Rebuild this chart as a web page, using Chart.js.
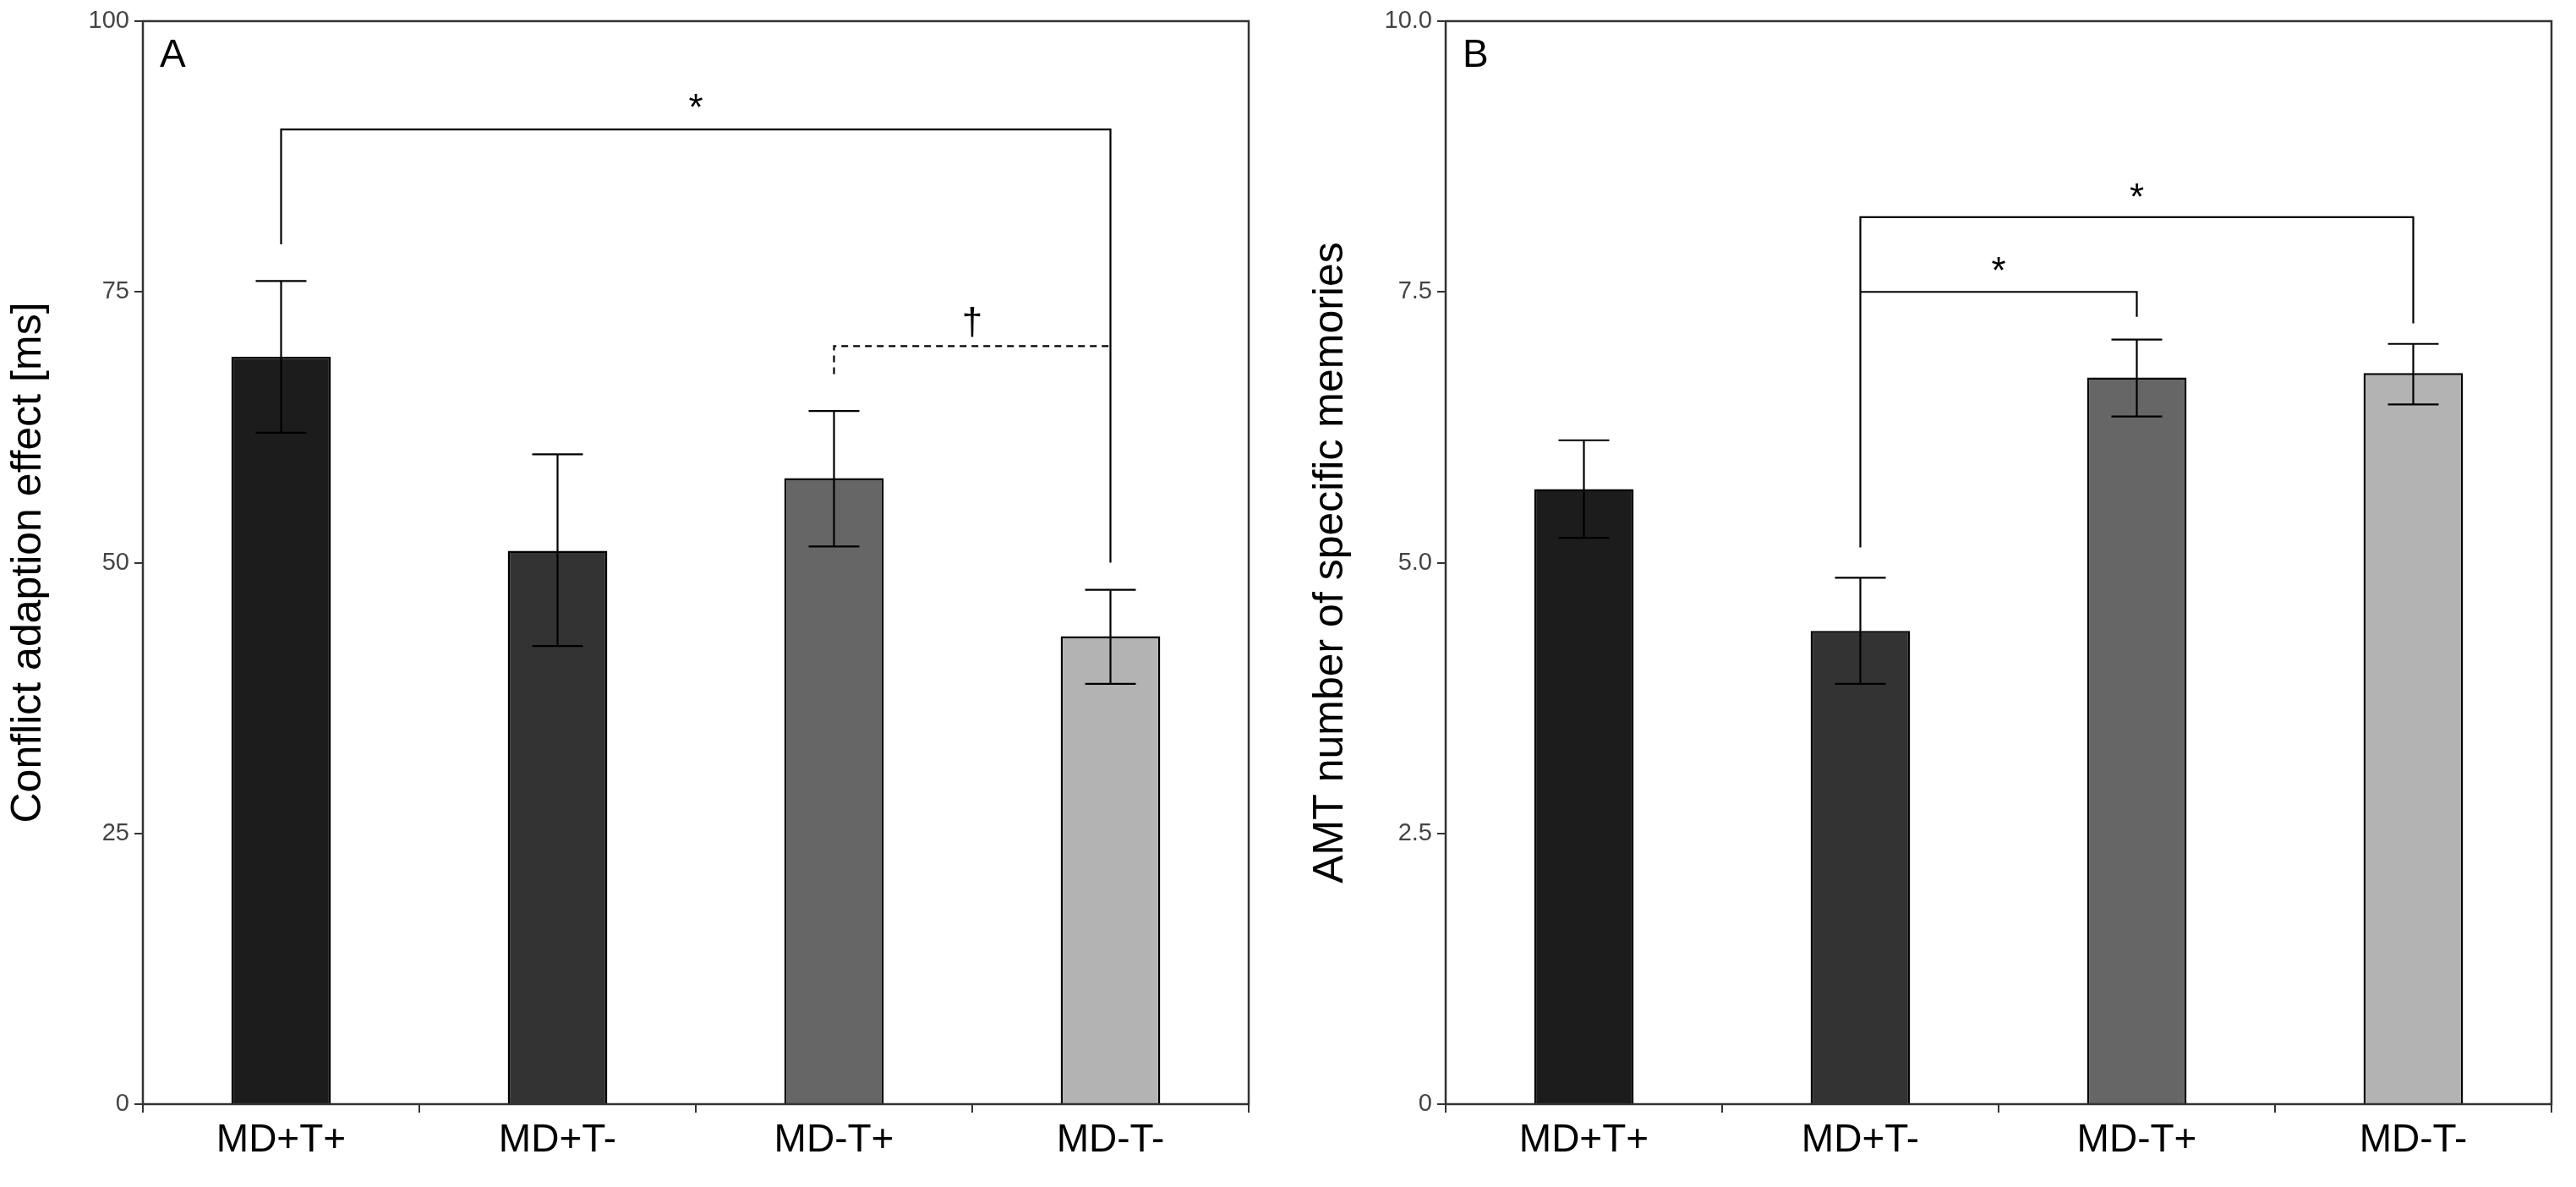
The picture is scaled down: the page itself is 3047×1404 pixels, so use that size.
<!DOCTYPE html>
<html><head><meta charset="utf-8">
<script src="https://cdn.jsdelivr.net/npm/chart.js@4"></script>
<style>body{margin:0;background:#fff;width:3047px;height:1404px;position:relative;overflow:hidden}
.p{position:absolute;top:0;height:1404px;width:1490px}</style></head>
<body>
<div class="p" style="left:0"><canvas id="a"></canvas></div>
<div class="p" style="left:1540px"><canvas id="b"></canvas></div>
<script>
const categories=["MD+T+","MD+T-","MD-T+","MD-T-"];
const colors=["#1c1c1c","#333333","#666666","#b3b3b3"];
const valuesA=[69.0,51.1,57.8,43.2];
const lowA=[62.0,42.3,51.5,38.8];
const highA=[76.0,60.0,64.0,47.5];
const valuesB=[5.68,4.37,6.71,6.75];
const lowB=[5.23,3.88,6.35,6.46];
const highB=[6.13,4.86,7.06,7.02];
const ticksA=[0,25,50,75,100];
const ticksB=["0","2.5","5.0","7.5","10.0"];
// brackets: [fromIdx, toIdx, y, leftDrop, rightDrop, label, dashed, labelY]
const bracketsA=[[0,3,90,79.4,50,"*",false,92.3],[2,3,70,67.4,70,"†",true,72.5]];
const bracketsB=[[1,3,8.19,5.14,7.21,"*",false,8.4],[1,2,7.5,7.5,7.27,"*",false,7.72]];

const deco={id:'deco',afterDatasetsDraw(c,a,o){
  const ctx=c.ctx,x=c.scales.x,y=c.scales.y,ca=c.chartArea;
  ctx.save();ctx.strokeStyle='#000';ctx.lineWidth=2.2;
  o.low.forEach((l,i)=>{const cx=x.getPixelForValue(i),w=30;
    const yl=y.getPixelForValue(l),yh=y.getPixelForValue(o.high[i]);
    ctx.beginPath();ctx.moveTo(cx,yl);ctx.lineTo(cx,yh);
    ctx.moveTo(cx-w,yl);ctx.lineTo(cx+w,yl);ctx.moveTo(cx-w,yh);ctx.lineTo(cx+w,yh);ctx.stroke();});
  o.br.forEach(b=>{const x1=x.getPixelForValue(b[0]),x2=x.getPixelForValue(b[1]);
    const yy=y.getPixelForValue(b[2]);
    ctx.setLineDash(b[6]?[8,6]:[]);
    ctx.beginPath();ctx.moveTo(x1,y.getPixelForValue(b[3]));ctx.lineTo(x1,yy);ctx.lineTo(x2,yy);ctx.lineTo(x2,y.getPixelForValue(b[4]));ctx.stroke();
    ctx.setLineDash([]);ctx.fillStyle='#000';ctx.font='44px "Liberation Sans"';ctx.textAlign='center';ctx.textBaseline='middle';
    ctx.fillText(b[5],(x1+x2)/2,y.getPixelForValue(b[7])+6);});
  ctx.lineWidth=2.5;ctx.strokeStyle='#333';ctx.strokeRect(ca.left,ca.top,ca.right-ca.left,ca.bottom-ca.top);
  ctx.fillStyle='#000';ctx.font='46px "Liberation Sans"';ctx.textAlign='left';ctx.textBaseline='top';
  ctx.fillText(o.letter,ca.left+20,ca.top+18);
  ctx.restore();}};

function make(id,vals,low,high,br,max,step,tl,title,letter,yw,pr){
  new Chart(document.getElementById(id),{type:'bar',
   data:{labels:categories,datasets:[{data:vals,backgroundColor:colors,borderColor:'#000',borderWidth:2.5,barPercentage:0.36,categoryPercentage:1}]},
   options:{responsive:true,maintainAspectRatio:false,animation:false,
    layout:{padding:{top:25,right:pr,bottom:0,left:0}},
    plugins:{legend:{display:false},tooltip:{enabled:false},deco:{low,high,br,letter}},
    scales:{
     x:{grid:{display:true,drawOnChartArea:false,tickLength:10,color:'#333',lineWidth:2},border:{display:false},
        ticks:{color:'#000',font:{size:46,family:'Liberation Sans'},padding:6},
        afterFit:s=>{s.height=98;}},
     y:{min:0,max:max,grid:{display:true,drawOnChartArea:false,tickLength:10,color:'#333',lineWidth:2},border:{display:false},
        ticks:{stepSize:step,color:'#444',font:{size:29,family:'Liberation Sans'},padding:6,callback:(v,i)=>tl[i]},
        title:{display:true,text:title,color:'#000',font:{size:50,family:'Liberation Sans'},padding:{bottom:14}},
        afterFit:s=>{s.width=yw;}}}},
   plugins:[deco]});
}
make('a',valuesA,lowA,highA,bracketsA,100,25,ticksA,'Conflict adaption effect [ms]','A',169,13);
make('b',valuesB,lowB,highB,bracketsB,10,2.5,ticksB,'AMT number of specific memories','B',170,12);
</script></body></html>
